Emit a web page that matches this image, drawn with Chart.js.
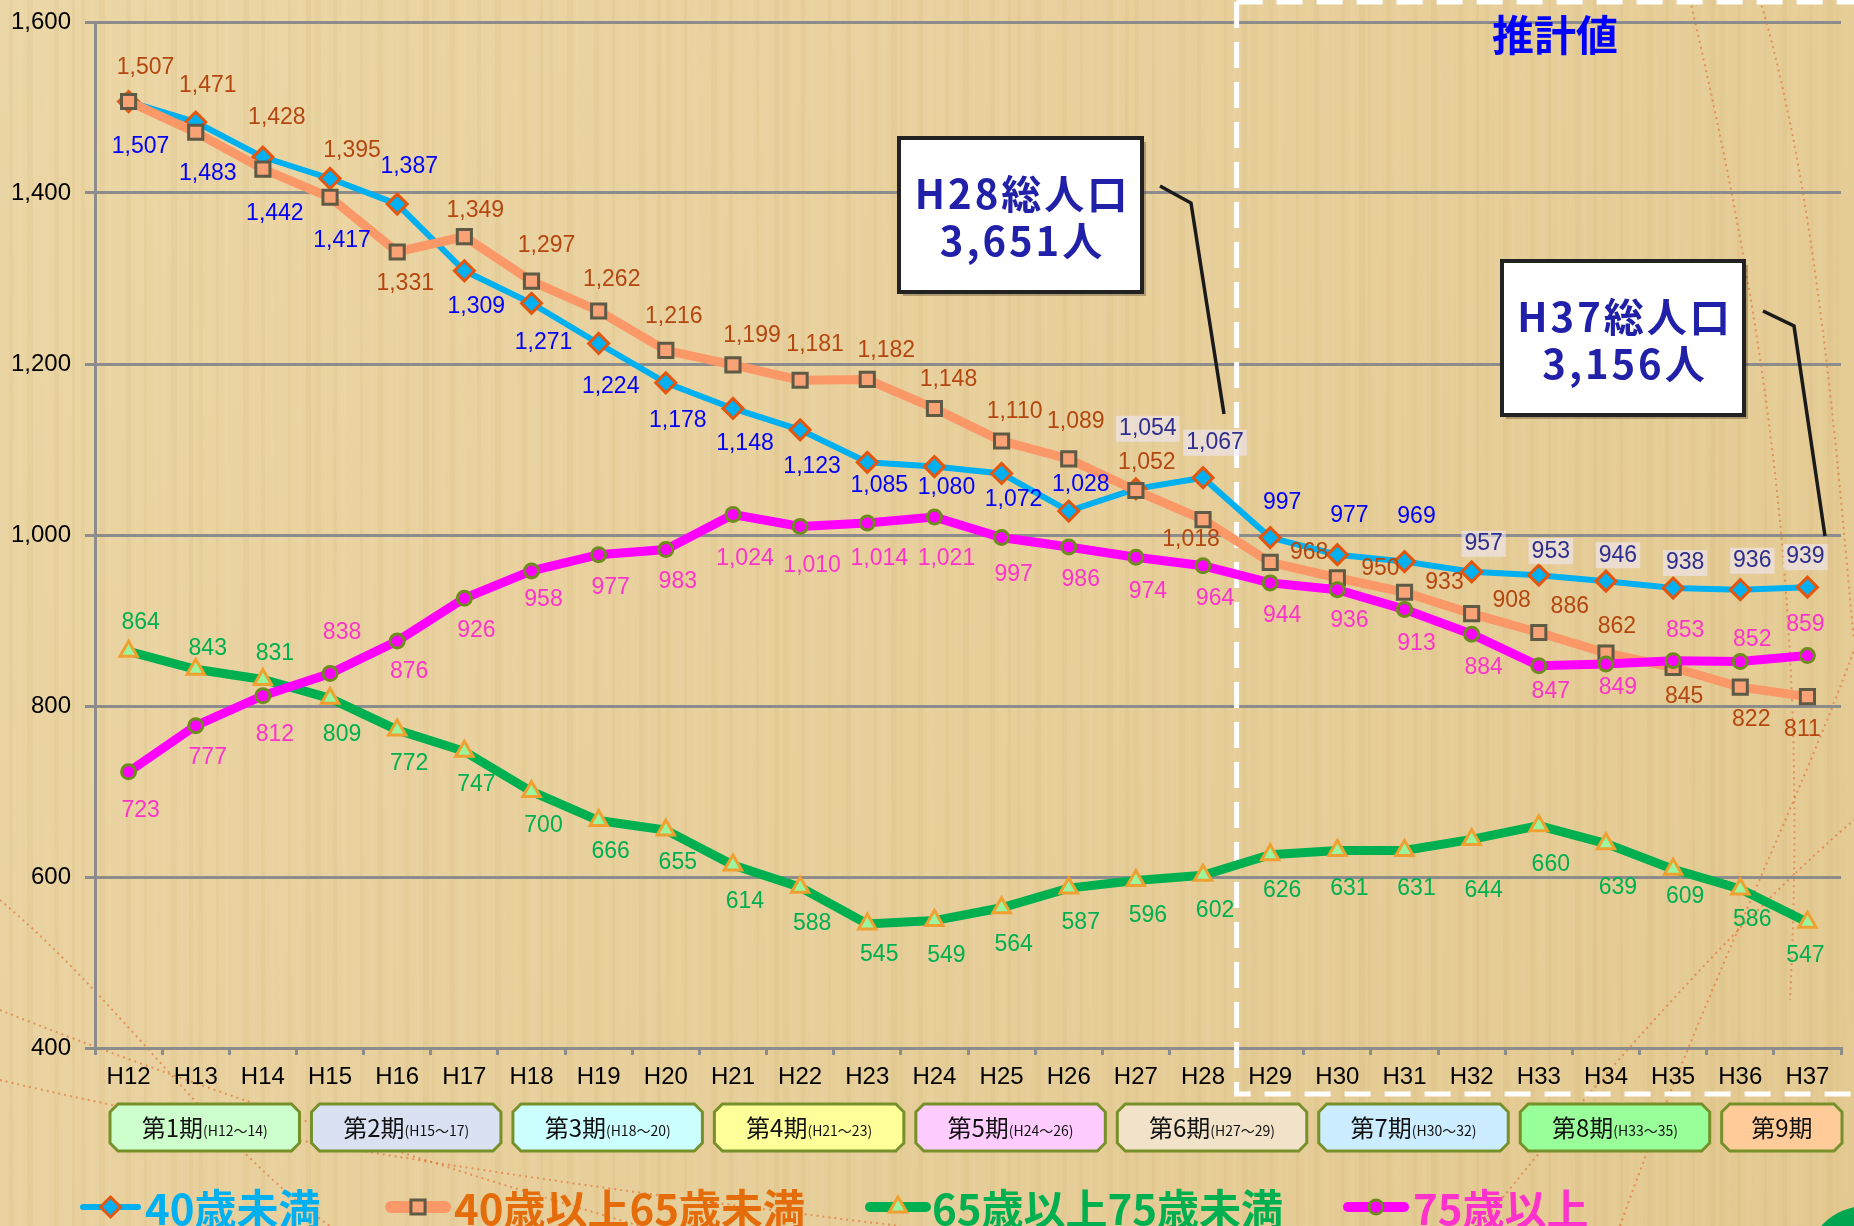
<!DOCTYPE html>
<html lang="ja">
<head>
<meta charset="utf-8">
<title>年齢区分別人口の推移</title>
<script src="https://cdn.jsdelivr.net/npm/chart.js@4.4.1/dist/chart.umd.min.js"></script>
<style>
    html, body { margin: 0; padding: 0; background: #e7d09c; }
    canvas { display: block; }
</style>
</head>
<body>
<canvas id="age-chart" width="1854" height="1226"></canvas>
<script>
// Years (H29 onward are estimates)
var years = ['H12', 'H13', 'H14', 'H15', 'H16', 'H17', 'H18', 'H19', 'H20', 'H21', 'H22', 'H23', 'H24',
             'H25', 'H26', 'H27', 'H28', 'H29', 'H30', 'H31', 'H32', 'H33', 'H34', 'H35', 'H36', 'H37'];

// Population by age group
var under40    = [1507, 1483, 1442, 1417, 1387, 1309, 1271, 1224, 1178, 1148, 1123, 1085, 1080,
                  1072, 1028, 1054, 1067, 997, 977, 969, 957, 953, 946, 938, 936, 939];
var from40to64 = [1507, 1471, 1428, 1395, 1331, 1349, 1297, 1262, 1216, 1199, 1181, 1182, 1148,
                  1110, 1089, 1052, 1018, 968, 950, 933, 908, 886, 862, 845, 822, 811];
var from65to74 = [864, 843, 831, 809, 772, 747, 700, 666, 655, 614, 588, 545, 549,
                  564, 587, 596, 602, 626, 631, 631, 644, 660, 639, 609, 586, 547];
var over75     = [723, 777, 812, 838, 876, 926, 958, 977, 983, 1024, 1010, 1014, 1021,
                  997, 986, 974, 964, 944, 936, 913, 884, 847, 849, 853, 852, 859];

var seriesNames = ['40歳未満', '40歳以上65歳未満', '65歳以上75歳未満', '75歳以上'];

// Y axis
var yMin = 400, yMax = 1600, yStep = 200;

// Plan periods under the axis
var periodNames  = ['第1期', '第2期', '第3期', '第4期', '第5期', '第6期', '第7期', '第8期', '第9期'];
var periodRanges = ['(H12～14)', '(H15～17)', '(H18～20)', '(H21～23)', '(H24～26)', '(H27～29)', '(H30～32)', '(H33～35)', ''];
var periodStart  = [0, 3, 6, 9, 12, 15, 18, 21, 24];

// Total population call-outs
var calloutTitles = ['H28総人口', 'H37総人口'];
var calloutTotals = ['3,651人', '3,156人'];
var estimateText = '推計値';
var firstEstimate = 17; // index of H29

// ---- styling ----
var lineColors   = ['#00B0F0', '#FA9868', '#00B050', '#FF00FF'];
var labelColors  = ['#0000FF', '#B4460F', '#00B050', '#FF33CC'];
var legendColors = ['#00B0F0', '#E46C0A', '#00B050', '#FF33CC'];
var periodFills  = ['#CCFFCC', '#D9E1F2', '#CCFFFF', '#FFFF99', '#FFCCFF', '#F2E2CA', '#CCECFF', '#99FF99', '#FFCC99'];

// vertical offset of each value label from its marker (px)
var labelDy = [
    [45, 52, 57, 62, -37, 36, 39, 43, 38, 35, 37, 23, 21, 26, -26, -60, -35, -35, -39, -45, -28, -24, -26, -25, -29, -30],
    [-34, -47, -51, -47, 32, -26, -35, -31, -34, -29, -36, -29, -29, -29, -37, -28, 20, -10, -9, -10, -13, -26, -26, 29, 32, 33],
    [-29, -21, -26, 36, 34, 33, 34, 31, 33, 37, 36, 31, 35, 37, 35, 35, 35, 36, 38, 38, 51, 39, 44, 27, 31, 33],
    [39, 32, 39, -41, 31, 32, 29, 33, 32, 44, 39, 36, 42, 37, 33, 34, 33, 33, 31, 34, 33, 26, 24, -30, -22, -31]
];
var orangeDx = [17, 12, 14, 22, 8, 11, 15, 13, 8, 19, 15, 19, 14, 13, 7, 11, -12, 39, 43, 40, 40, 31, 11, 11, 11, -5];
var pastedBlue = [15, 16, 20, 21, 22, 23, 24, 25]; // labels that sit on a pale patch in the original

function fmt(v) {
    return String(v).replace(/\B(?=(\d{3})+(?!\d))/g, ',');
}

function marker(ctx, style, x, y, r, fill, stroke, lw) {
    ctx.save();
    ctx.beginPath();
    if (style === 'rectRot') {
        ctx.moveTo(x, y - r); ctx.lineTo(x + r, y); ctx.lineTo(x, y + r); ctx.lineTo(x - r, y); ctx.closePath();
    } else if (style === 'rect') {
        var s = r * Math.SQRT1_2;
        ctx.rect(x - s, y - s, 2 * s, 2 * s);
    } else if (style === 'triangle') {
        ctx.moveTo(x, y - r); ctx.lineTo(x + r * 0.87, y + r * 0.5); ctx.lineTo(x - r * 0.87, y + r * 0.5); ctx.closePath();
    } else {
        ctx.arc(x, y, r, 0, Math.PI * 2);
    }
    ctx.fillStyle = fill; ctx.fill();
    ctx.lineWidth = lw; ctx.strokeStyle = stroke; ctx.stroke();
    ctx.restore();
}

// Paper background with faint fibres and dotted threads
var paperPlugin = {
    id: 'paper',
    beforeDraw: function (chart) {
        var ctx = chart.ctx, W = chart.width, H = chart.height;
        var g = ctx.createLinearGradient(0, 0, W, H);
        g.addColorStop(0, '#EBD6A5');
        g.addColorStop(0.5, '#E7CF9B');
        g.addColorStop(1, '#E3C990');
        ctx.save();
        ctx.fillStyle = g;
        ctx.fillRect(0, 0, W, H);
        // fibres
        for (var x = 0; x < W; x += 9) {
            var a = ((x * 37) % 13) / 13;
            ctx.fillStyle = a > 0.5 ? 'rgba(200,165,95,' + (0.05 + a * 0.06) + ')' : 'rgba(250,235,200,' + (0.04 + a * 0.08) + ')';
            ctx.fillRect(x, 0, 3 + (x % 4), H);
        }
        // dotted threads
        ctx.strokeStyle = 'rgba(225,95,35,0.55)';
        ctx.lineWidth = 2;
        ctx.setLineDash([2, 4]);
        var threads = [
            [[0, 900], [120, 1000], [220, 1150], [330, 1226]],
            [[0, 1010], [200, 1090], [450, 1170], [640, 1226]],
            [[0, 1080], [250, 1140], [600, 1190], [900, 1226]],
            [[1760, 0], [1820, 200], [1840, 500], [1854, 640]],
            [[1690, 0], [1760, 300], [1810, 600], [1790, 1000]],
            [[1620, 1226], [1700, 1000], [1800, 800], [1854, 650]],
            [[1480, 1226], [1620, 1050], [1760, 900], [1854, 820]]
        ];
        threads.forEach(function (t) {
            ctx.beginPath();
            ctx.moveTo(t[0][0], t[0][1]);
            ctx.bezierCurveTo(t[1][0], t[1][1], t[2][0], t[2][1], t[3][0], t[3][1]);
            ctx.stroke();
        });
        ctx.setLineDash([]);
        // green seal in the corner
        ctx.fillStyle = '#00A650';
        ctx.beginPath();
        ctx.arc(1866, 1266, 60, 0, Math.PI * 2);
        ctx.fill();
        ctx.restore();
    }
};

// Dashed frame round the estimate years
var estimatePlugin = {
    id: 'estimate',
    beforeDatasetsDraw: function (chart) {
        var ctx = chart.ctx, xs = chart.scales.x;
        var x = (xs.getPixelForValue(firstEstimate - 1) + xs.getPixelForValue(firstEstimate)) / 2;
        ctx.save();
        ctx.strokeStyle = '#FFFFFF';
        ctx.lineWidth = 5;
        ctx.setLineDash([26, 14]);
        ctx.beginPath();
        ctx.moveTo(x, 2); ctx.lineTo(chart.width, 2);
        ctx.moveTo(x, 2); ctx.lineTo(x, 1094); ctx.lineTo(chart.width, 1094);
        ctx.stroke();
        ctx.setLineDash([]);
        ctx.fillStyle = '#0000FF';
        ctx.font = 'bold 42px "Noto Sans CJK JP"';
        ctx.textAlign = 'center';
        ctx.textBaseline = 'middle';
        ctx.fillText(estimateText, 1555, 35);
        ctx.restore();
    }
};

// Value labels next to every point
var valueLabelPlugin = {
    id: 'valueLabels',
    afterDatasetsDraw: function (chart) {
        var ctx = chart.ctx;
        ctx.save();
        ctx.font = '23px "Liberation Sans", Arial, sans-serif';
        ctx.textAlign = 'center';
        ctx.textBaseline = 'middle';
        chart.data.datasets.forEach(function (ds, di) {
            var meta = chart.getDatasetMeta(di);
            meta.data.forEach(function (pt, i) {
                var dx = di === 1 ? orangeDx[i] : (i === ds.data.length - 1 ? -2 : 12);
                var x = pt.x + dx, y = pt.y + labelDy[di][i];
                var txt = fmt(ds.data[i]);
                ctx.fillStyle = labelColors[di];
                if (di === 0 && pastedBlue.indexOf(i) >= 0) {
                    var w = ctx.measureText(txt).width;
                    ctx.fillStyle = 'rgba(238,232,246,0.6)';
                    ctx.fillRect(x - w / 2 - 3, y - 13, w + 6, 26);
                    ctx.fillStyle = '#2E2E8E';
                }
                ctx.fillText(txt, x, y);
            });
        });
        ctx.restore();
    }
};

// Call-out boxes, plan periods and legend
var extrasPlugin = {
    id: 'extras',
    afterDraw: function (chart) {
        var ctx = chart.ctx, xs = chart.scales.x;

        // call-outs
        var boxes = [[899, 138, 243, 154], [1502, 261, 242, 154]];
        var leaders = [[[1160, 186], [1191, 203], [1224, 414]], [[1763, 311], [1794, 326], [1825, 536]]];
        ctx.save();
        boxes.forEach(function (b, k) {
            ctx.strokeStyle = '#1A1A1A';
            ctx.lineWidth = 3.5;
            ctx.beginPath();
            leaders[k].forEach(function (p, j) { j ? ctx.lineTo(p[0], p[1]) : ctx.moveTo(p[0], p[1]); });
            ctx.stroke();
            ctx.fillStyle = 'rgba(70,55,30,0.35)';
            ctx.fillRect(b[0] + 4, b[1] + 4, b[2], b[3]);
            ctx.fillStyle = '#FFFFFF';
            ctx.fillRect(b[0], b[1], b[2], b[3]);
            ctx.lineWidth = 4;
            ctx.strokeStyle = '#222222';
            ctx.strokeRect(b[0], b[1], b[2], b[3]);
            ctx.fillStyle = '#2020A8';
            ctx.font = 'bold 40px "Noto Sans CJK JP"';
            ctx.letterSpacing = '3px';
            ctx.textAlign = 'center';
            ctx.textBaseline = 'middle';
            ctx.fillText(calloutTitles[k], b[0] + b[2] / 2 + 2, b[1] + 56);
            ctx.fillText(calloutTotals[k], b[0] + b[2] / 2 + 2, b[1] + 103);
            ctx.letterSpacing = '0px';
        });
        ctx.restore();

        // plan periods
        var step = xs.getPixelForValue(1) - xs.getPixelForValue(0);
        ctx.save();
        periodNames.forEach(function (name, k) {
            var l = xs.getPixelForValue(periodStart[k]) - step / 2 + 15;
            var r = Math.min(xs.getPixelForValue(periodStart[k] + 2) + step / 2 + 3, chart.width - 12);
            var t = 1104, btm = 1151, c = 8;
            ctx.beginPath();
            ctx.moveTo(l + c, t); ctx.lineTo(r - c, t); ctx.lineTo(r, t + c); ctx.lineTo(r, btm - c);
            ctx.lineTo(r - c, btm); ctx.lineTo(l + c, btm); ctx.lineTo(l, btm - c); ctx.lineTo(l, t + c);
            ctx.closePath();
            ctx.fillStyle = periodFills[k];
            ctx.fill();
            ctx.lineWidth = 3;
            ctx.strokeStyle = '#76902A';
            ctx.stroke();

            ctx.fillStyle = '#111111';
            ctx.textBaseline = 'middle';
            ctx.textAlign = 'left';
            ctx.font = '24px "Noto Sans CJK JP"';
            var w1 = ctx.measureText(name).width;
            ctx.font = '14px "Noto Sans CJK JP"';
            var w2 = ctx.measureText(periodRanges[k]).width;
            var sx = (l + r) / 2 - (w1 + w2) / 2;
            ctx.font = '24px "Noto Sans CJK JP"';
            ctx.fillText(name, sx, 1128);
            ctx.font = '14px "Noto Sans CJK JP"';
            ctx.fillText(periodRanges[k], sx + w1, 1131);
        });
        ctx.restore();

        // legend
        var spots = [[83, 138, 145], [391, 445, 454], [870, 926, 932], [1348, 1404, 1413]];
        var widths = [6, 12, 10, 10];
        ctx.save();
        chart.data.datasets.forEach(function (ds, di) {
            var s = spots[di], y = 1207;
            ctx.strokeStyle = lineColors[di];
            ctx.lineWidth = widths[di];
            ctx.lineCap = 'round';
            ctx.beginPath();
            ctx.moveTo(s[0], y); ctx.lineTo(s[1], y);
            ctx.stroke();
            marker(ctx, ds.pointStyle, (s[0] + s[1]) / 2, y, ds.pointRadius, ds.pointBackgroundColor, ds.pointBorderColor, ds.pointBorderWidth);
            ctx.fillStyle = legendColors[di];
            ctx.font = 'bold 42px "Noto Sans CJK JP"';
            ctx.textAlign = 'left';
            ctx.textBaseline = 'middle';
            ctx.fillText(seriesNames[di], s[2], y + 2);
        });
        ctx.restore();
    }
};

Chart.defaults.font.family = '"Liberation Sans", Arial, sans-serif';

var ctx = document.getElementById('age-chart').getContext('2d');
var chart = new Chart(ctx, {

    // Set type of Chart
    type: 'line',

    data: {
        labels: years,
        datasets: [
            {
                label: seriesNames[0],
                data: under40,
                borderColor: lineColors[0],
                borderWidth: 6,
                pointStyle: 'rectRot',
                pointRadius: 10,
                pointBackgroundColor: '#00B0F0',
                pointBorderColor: '#E4560E',
                pointBorderWidth: 3,
                order: 3
            },
            {
                label: seriesNames[1],
                data: from40to64,
                borderColor: lineColors[1],
                borderWidth: 9,
                pointStyle: 'rect',
                pointRadius: 10,
                pointBackgroundColor: '#F9A276',
                pointBorderColor: '#5E5A45',
                pointBorderWidth: 3,
                order: 2
            },
            {
                label: seriesNames[2],
                data: from65to74,
                borderColor: lineColors[2],
                borderWidth: 9,
                pointStyle: 'triangle',
                pointRadius: 10,
                pointBackgroundColor: '#9CF59C',
                pointBorderColor: '#F0A030',
                pointBorderWidth: 3,
                order: 1
            },
            {
                label: seriesNames[3],
                data: over75,
                borderColor: lineColors[3],
                borderWidth: 9,
                pointStyle: 'circle',
                pointRadius: 7,
                pointBackgroundColor: '#FF00FF',
                pointBorderColor: '#6E8B1E',
                pointBorderWidth: 3,
                order: 0
            }]
    },

    options: {
        responsive: false,
        animation: false,
        layout: { padding: { top: 22, right: 0, left: 0, bottom: 0 } },
        elements: { line: { tension: 0 } },
        plugins: {
            legend: { display: false },
            tooltip: { enabled: false }
        },
        scales: {
            x: {
                offset: true,
                grid: { display: true, drawOnChartArea: false, offset: true, tickLength: 7, color: '#8C8C8C', lineWidth: 3 },
                border: { display: true, color: '#8C8C8C', width: 3 },
                ticks: { color: '#000000', font: { size: 24 }, padding: 8, maxRotation: 0, autoSkip: false },
                afterFit: function (scale) { scale.height = 178; scale.paddingLeft = 0; scale.paddingRight = 0; }
            },
            y: {
                min: yMin,
                max: yMax,
                grid: { color: '#8C8C8C', lineWidth: 3, tickLength: 10 },
                border: { display: true, color: '#8C8C8C', width: 3 },
                ticks: {
                    stepSize: yStep,
                    color: '#000000',
                    font: { size: 24 },
                    padding: 14,
                    callback: function (v) { return fmt(v); }
                },
                afterFit: function (scale) { scale.width = 95; scale.paddingTop = 0; scale.paddingBottom = 0; }
            }
        }
    },

    plugins: [paperPlugin, estimatePlugin, valueLabelPlugin, extrasPlugin]
});
</script>
</body>
</html>
